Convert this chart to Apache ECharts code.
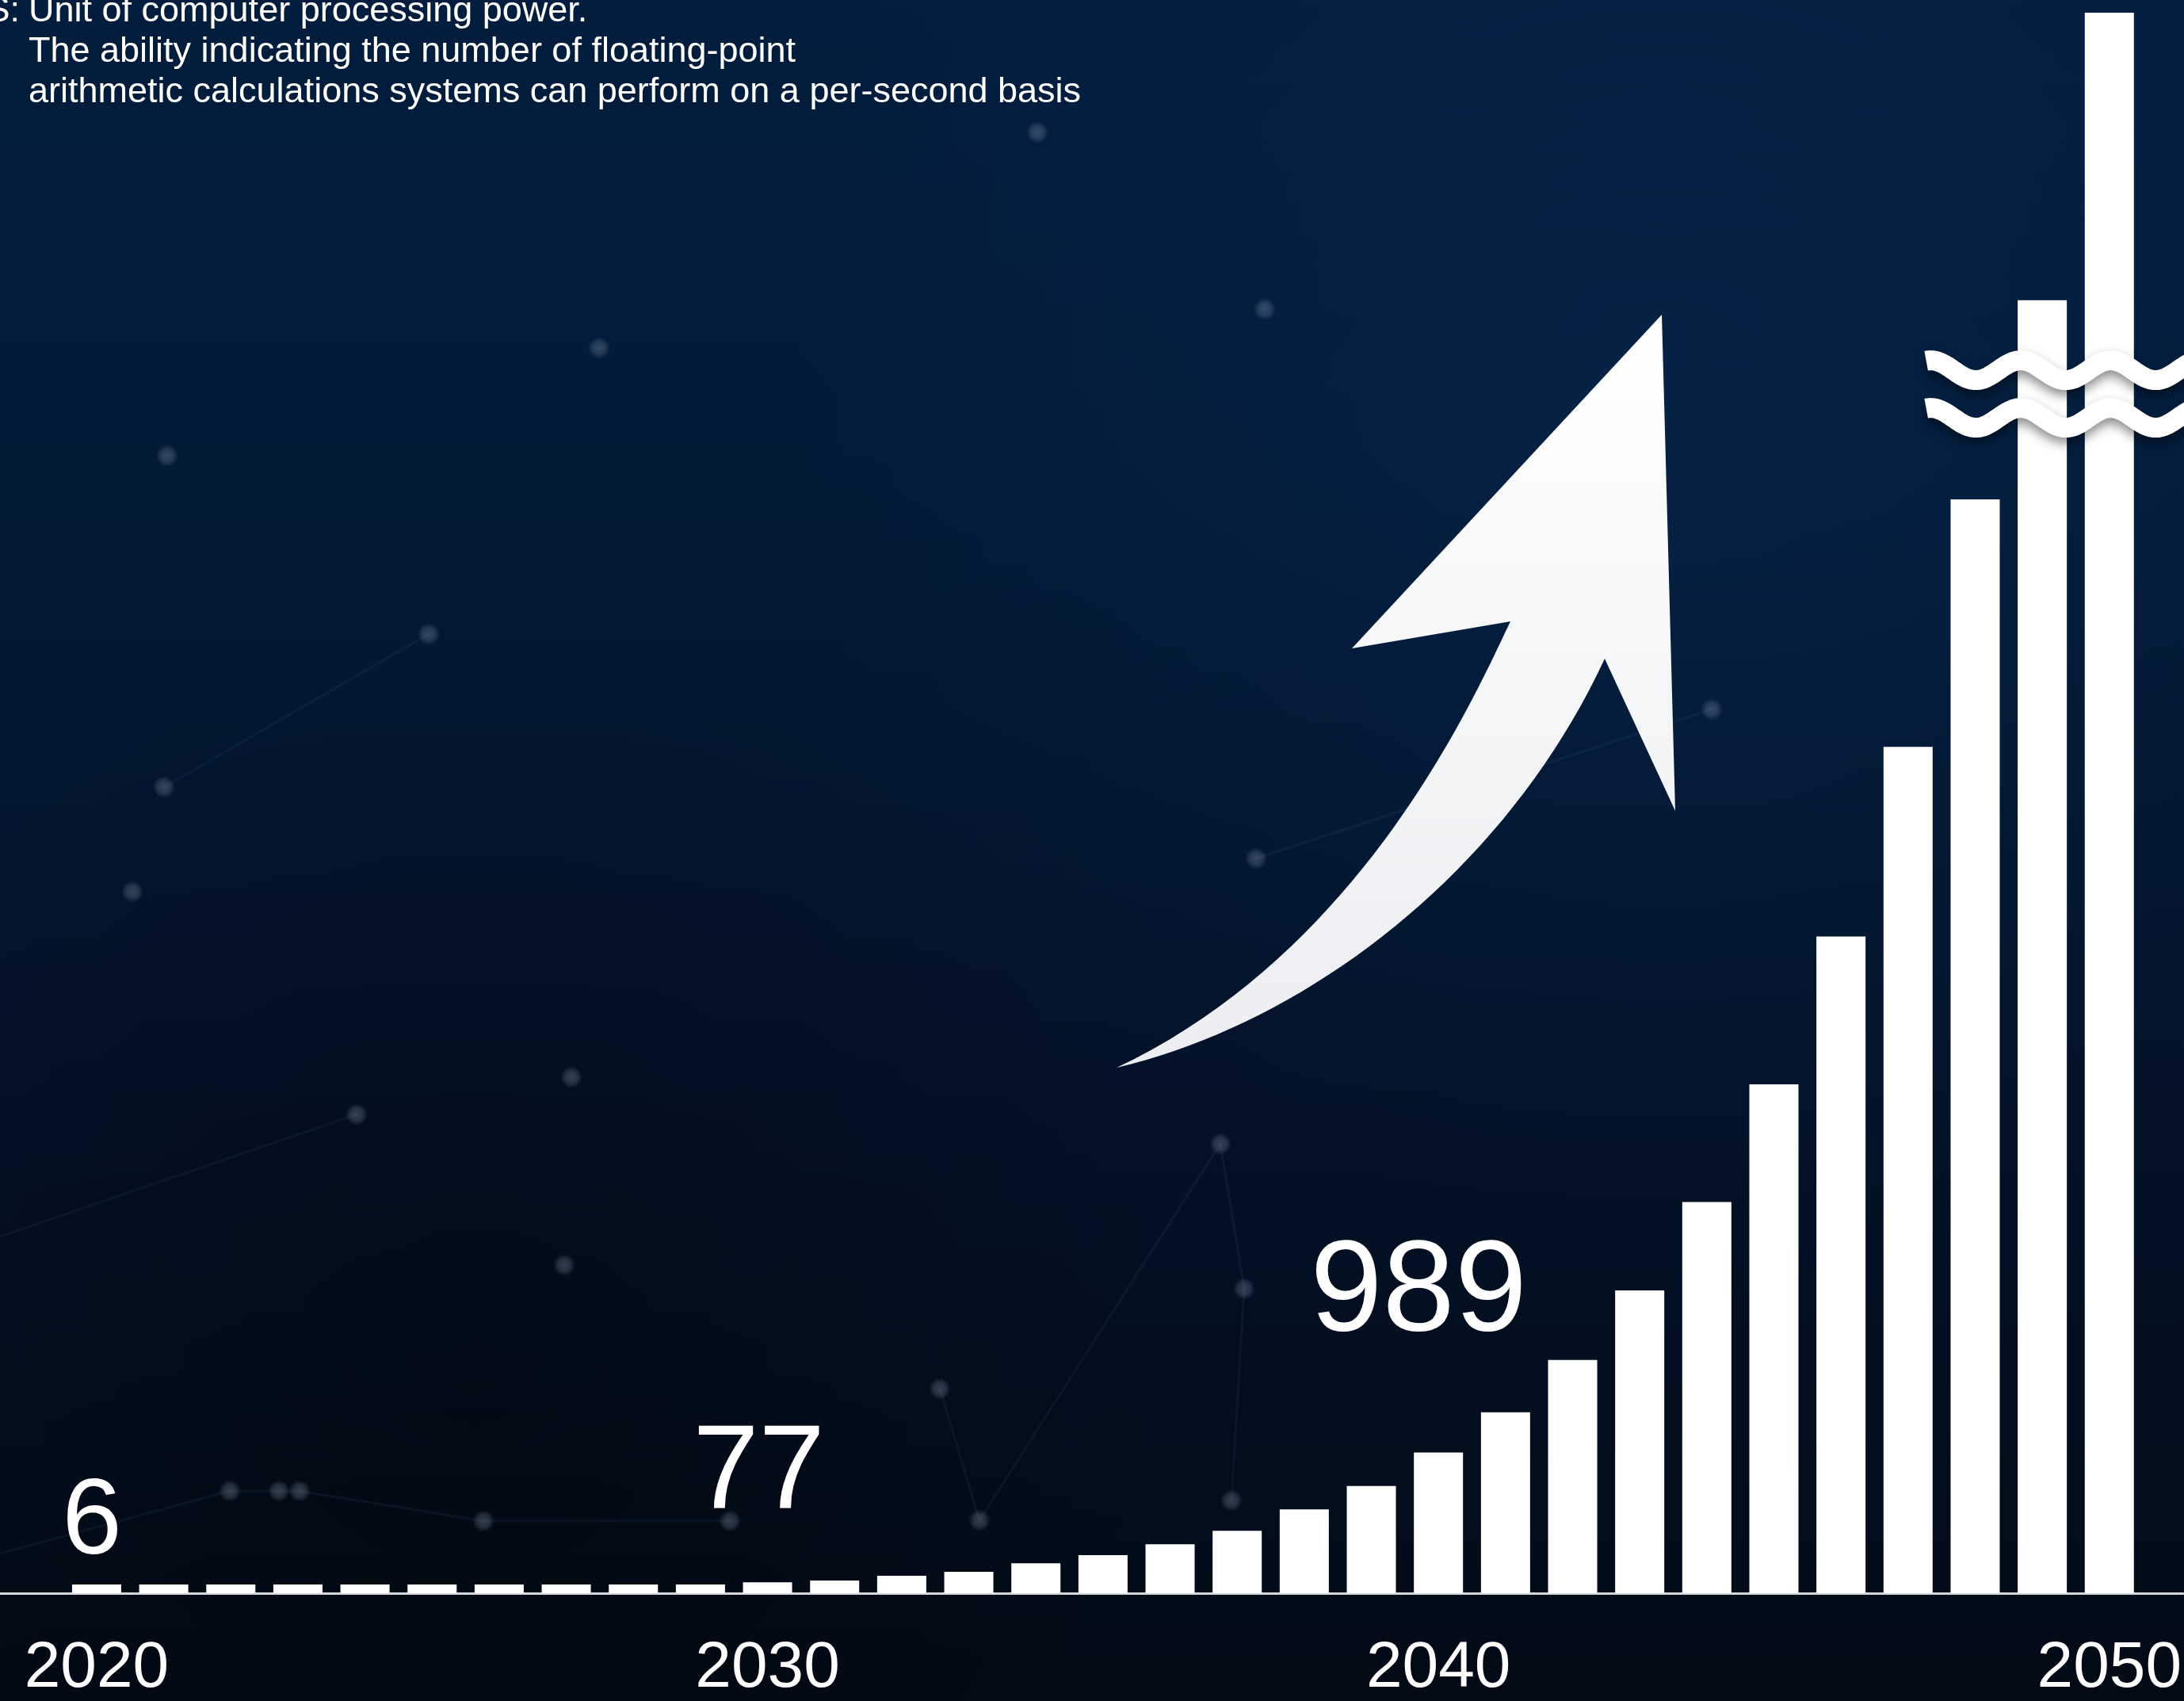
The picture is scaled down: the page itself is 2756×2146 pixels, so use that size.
<!DOCTYPE html>
<html>
<head>
<meta charset="utf-8">
<script src="https://cdn.jsdelivr.net/npm/echarts@6/dist/echarts.min.js"></script>
<style>
  html, body { margin: 0; padding: 0; background: #020c1a; overflow: hidden; }
  #chart { width: 2756px; height: 2146px; }
</style>
</head>
<body>
<div id="chart"></div>
<script>
// Projected computing power per year (FLOPS, relative units)
const years = [2020, 2021, 2022, 2023, 2024, 2025, 2026, 2027, 2028, 2029,
               2030, 2031, 2032, 2033, 2034, 2035, 2036, 2037, 2038, 2039,
               2040, 2041, 2042, 2043, 2044, 2045, 2046, 2047, 2048, 2049, 2050];
const flops = [6, 8, 10, 13, 17, 21, 28, 36, 46, 59,
               77, 89, 122, 150, 211, 267, 344, 439, 589, 753,
               989, 1272, 1639, 2128, 2750, 3578, 4617, 5950, 7689, 9089, 11111];
const tickYears = [2020, 2030, 2040, 2050];
const labelledYears = [2020, 2030, 2040];
// value where the vertical axis is visually broken (wavy marks)
const breakValue = 8430;

const noteHead = 'FLOPS:';
const noteLines = [
  'Unit of computer processing power.',
  'The ability indicating the number of floating-point',
  'arithmetic calculations systems can perform on a per-second basis'
];

// label look for the annotated bars, in order of labelledYears
const labelStyles = [
  { fontSize: 136, distance: 9, dx: -6 },
  { fontSize: 150, distance: 61, dx: -11 },
  { fontSize: 164, distance: 118, dx: -25 }
];

const FONT = '"Liberation Sans", Arial, Helvetica, sans-serif';
const chart = echarts.init(document.getElementById('chart'), null, { renderer: 'canvas' });

const barData = years.map((y, i) => {
  const k = labelledYears.indexOf(y);
  const item = { value: [y, flops[i]] };
  if (k >= 0) {
    const s = labelStyles[k];
    item.label = {
      show: true,
      position: 'top',
      distance: s.distance,
      offset: [s.dx, 0],
      fontSize: s.fontSize,
      lineHeight: s.fontSize,
      fontFamily: FONT,
      color: '#ffffff',
      formatter: p => String(p.value[1])
    };
  }
  return item;
});

// faint network decoration in the backdrop
const dots = [[541,800],[207,993],[167,1125],[1585,1083],[2160,895],[1540,1443],[450,1406],
  [1309,167],[1596,390],[610,1919],[290,1881],[352,1881],[378,1881],[1186,1752],[1236,1918],
  [1554,1893],[921,1919],[1570,1626],[721,1359],[712,1596],[756,439],[211,575]];
const links = [[[0,1960],[290,1881]],[[290,1881],[378,1881]],[[378,1881],[610,1919]],
  [[610,1919],[921,1919]],[[1540,1443],[1570,1626]],[[1570,1626],[1554,1893]],
  [[1540,1443],[1236,1918]],[[1236,1918],[1186,1752]],[[541,800],[207,993]],
  [[1585,1083],[2160,895]],[[450,1406],[0,1560]]];

function decorGraphics() {
  const g = [];
  g.push({
    type: 'rect', z: -20, silent: true,
    shape: { x: 0, y: 0, width: 2756, height: 2146 },
    style: { fill: { type: 'linear', x: 0, y: 0, x2: 0, y2: 1, colorStops: [
      { offset: 0, color: '#021d3d' }, { offset: 0.3, color: '#031a36' },
      { offset: 0.6, color: '#03132a' }, { offset: 1, color: '#020a15' } ] } }
  });
  g.push({
    type: 'circle', z: -19, silent: true,
    shape: { cx: 2100, cy: 450, r: 1100 },
    style: { fill: { type: 'radial', x: 0.5, y: 0.5, r: 0.5, colorStops: [
      { offset: 0, color: 'rgba(10,50,100,0.3)' }, { offset: 1, color: 'rgba(10,50,100,0)' } ] } }
  });
  g.push({
    type: 'circle', z: -19, silent: true,
    shape: { cx: 600, cy: 1700, r: 900 },
    style: { fill: { type: 'radial', x: 0.5, y: 0.5, r: 0.5, colorStops: [
      { offset: 0, color: 'rgba(0,0,0,0.3)' }, { offset: 1, color: 'rgba(0,0,0,0)' } ] } }
  });
  links.forEach(l => g.push({
    type: 'line', z: -18, silent: true,
    shape: { x1: l[0][0], y1: l[0][1], x2: l[1][0], y2: l[1][1] },
    style: { stroke: 'rgba(120,150,185,0.08)', lineWidth: 3 }
  }));
  dots.forEach(d => g.push({
    type: 'circle', z: -17, silent: true,
    shape: { cx: d[0], cy: d[1], r: 14 },
    style: { fill: { type: 'radial', x: 0.5, y: 0.5, r: 0.5, colorStops: [
      { offset: 0, color: 'rgba(160,175,195,0.3)' }, { offset: 0.55, color: 'rgba(160,175,195,0.22)' },
      { offset: 1, color: 'rgba(160,175,195,0)' } ] } }
  }));
  return g;
}

function noteGraphics() {
  return [
    { type: 'text', z: 20, silent: true,
      style: { text: noteHead, x: 25, y: -11, align: 'right', verticalAlign: 'top',
               font: '45px ' + FONT, lineHeight: 51, fill: '#ffffff' } },
    { type: 'text', z: 20, silent: true,
      style: { text: noteLines.join('\n'), x: 36, y: -11, align: 'left', verticalAlign: 'top',
               font: '45px ' + FONT, lineHeight: 51, fill: '#ffffff' } }
  ];
}

// sample a cubic bezier into points
function cubic(p0, c1, c2, p3, n) {
  const pts = [];
  for (let i = 1; i <= n; i++) {
    const t = i / n, u = 1 - t;
    pts.push([
      u*u*u*p0[0] + 3*u*u*t*c1[0] + 3*u*t*t*c2[0] + t*t*t*p3[0],
      u*u*u*p0[1] + 3*u*u*t*c1[1] + 3*u*t*t*c2[1] + t*t*t*p3[1]
    ]);
  }
  return pts;
}

function arrowGraphic() {
  const tip = [2097, 397], barbL = [1706, 818], notchL = [1906, 784];
  const tail = [1409, 1347], notchR = [2025, 831], barbR = [2114, 1023];
  const pts = [tip, barbL, notchL]
    .concat(cubic(notchL, [1860, 880], [1720, 1200], tail, 40))
    .concat(cubic(tail, [1650, 1290], [1900, 1100], notchR, 40))
    .concat([barbR]);
  return {
    type: 'polygon', z: 15, silent: true,
    shape: { points: pts },
    style: { fill: { type: 'linear', x: 0, y: 0, x2: 0, y2: 1, colorStops: [
      { offset: 0, color: '#ffffff' }, { offset: 1, color: '#ebedf0' } ] } }
  };
}

function waveGraphics() {
  const yMid = chart.convertToPixel({ gridIndex: 0 }, [2047, breakValue])[1];
  const xStart = chart.convertToPixel({ gridIndex: 0 }, [2047.27, 0])[0];
  const xCrest = chart.convertToPixel({ gridIndex: 0 }, [2048.68, 0])[0];
  const lambda = 113.5, amp = 12.5, sep = 30;
  const out = [];
  [-sep, sep].forEach(off => {
    const pts = [];
    for (let x = xStart; x <= 2790; x += 2) {
      pts.push([x, yMid + off - amp * Math.cos(2 * Math.PI * (x - xCrest) / lambda)]);
    }
    out.push({
      type: 'polyline', z: 16, silent: true,
      shape: { points: pts },
      style: { stroke: '#ffffff', lineWidth: 25, fill: null, lineCap: 'butt', lineJoin: 'round',
               shadowBlur: 14, shadowOffsetY: 7, shadowColor: 'rgba(0,0,0,0.45)' }
    });
  });
  return out;
}

chart.setOption({
  animation: false,
  backgroundColor: '#03142b',
  grid: { left: 0, right: 0, top: 0, bottom: 129, containLabel: false },
  xAxis: {
    type: 'value',
    min: years[0] - 1.4404,
    max: years[years.length - 1] + 1.0977,
    axisLine: { show: true, lineStyle: { color: '#d3d7dc', width: 3 } },
    axisTick: { show: false },
    splitLine: { show: false },
    axisLabel: {
      customValues: tickYears,
      formatter: v => String(v),
      color: '#ffffff',
      fontSize: 82,
      lineHeight: 82,
      fontFamily: FONT,
      margin: 54
    }
  },
  yAxis: { type: 'value', min: 0, max: 11200, show: false, splitLine: { show: false } },
  series: [{
    type: 'bar',
    data: barData,
    barWidth: 62,
    barMinHeight: 11,
    z: 5,
    itemStyle: { color: '#ffffff' },
    label: { show: false }
  }],
  graphic: []
});

chart.setOption({
  graphic: decorGraphics().concat(noteGraphics(), [arrowGraphic()], waveGraphics())
});
</script>
</body>
</html>
